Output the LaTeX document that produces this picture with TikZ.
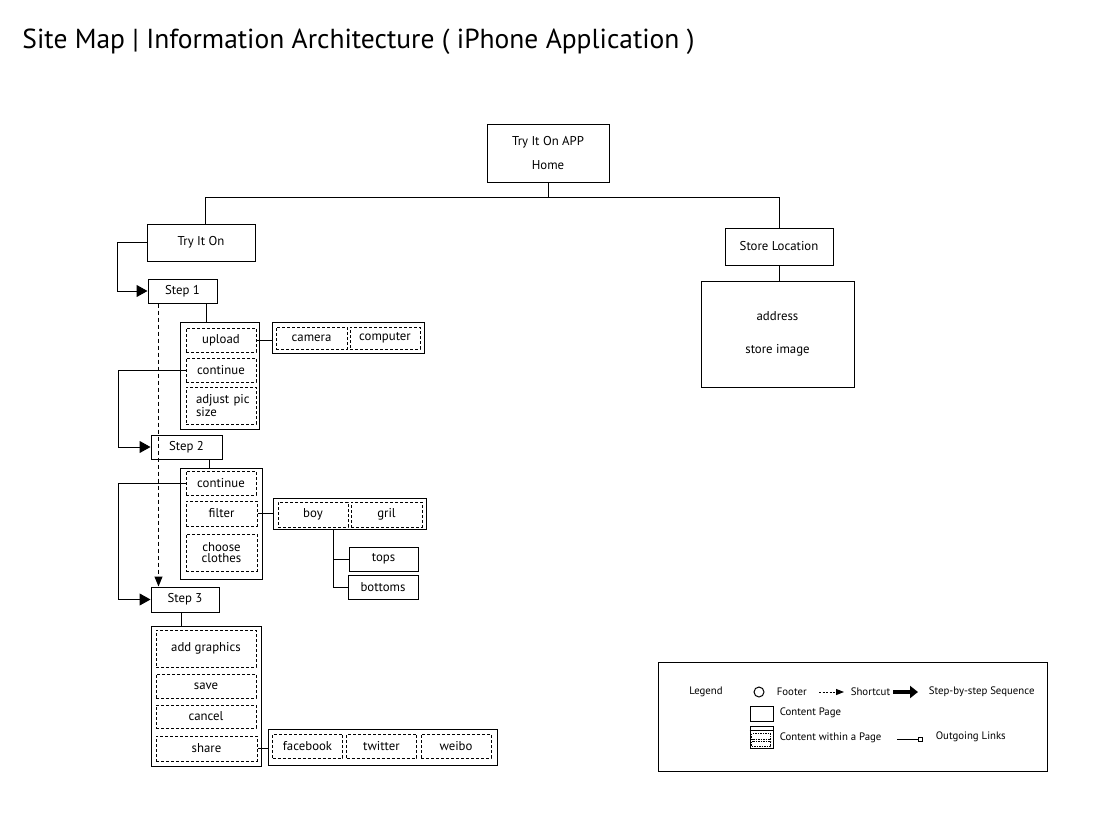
\documentclass[tikz,border=0pt]{standalone}
\usepackage{fontspec}
\setmainfont{PT Sans}
\usepackage{tikz}
\usetikzlibrary{arrows.meta, positioning, calc}

\begin{document}
\begin{tikzpicture}[x=1pt, y=-1pt, line width=1pt,
  page/.style={draw, rectangle, inner sep=0pt, font=\fontsize{12.8}{14}\selectfont},
  item/.style={draw, rectangle, inner sep=0pt, dash pattern=on 3pt off 2pt, font=\fontsize{12.8}{12}\selectfont},
  group/.style={draw, rectangle, inner sep=0pt},
  stepline/.style={-{Triangle[length=11pt, width=12pt]}},
  shortline/.style={dash pattern=on 4pt off 3pt, -{Triangle[length=10pt, width=8pt]}},
  legendtxt/.style={font=\fontsize{10.8}{11}\selectfont, anchor=west}]
  \path[fill=white] (0,0) rectangle (1093,830);
  \useasboundingbox (0,0) rectangle (1093,830);

  % Title
  \node[anchor=base west, inner sep=0pt, font=\fontsize{27.5}{28}\selectfont] (title) at (22,48) {Site Map | Information Architecture ( iPhone Application )};

  % Home and first level
  \node[page, minimum width=122, minimum height=58, align=center, font=\fontsize{12.8}{24}\selectfont] (home) at (548,153) {Try It On APP\\Home};
  \node[page, minimum width=108, minimum height=37] (tryon) at (201,242.5) {Try It On};
  \node[page, minimum width=108, minimum height=37] (store) at (779,246.5) {Store Location};
  \node[page, minimum width=153, minimum height=106, align=center, font=\fontsize{12.8}{33}\selectfont] (storeinfo) at (777.5,334) {address\\store image};

  \coordinate (busL) at (205,197);
  \coordinate (busR) at (779,197);
  \draw (home.south) -- (home.south |- busL);
  \draw (busL |- tryon.north) -- (busL) -- (busR) -- (busR |- store.north);
  \draw (store.south) -- (store.south |- storeinfo.north);

  % Step 1
  \node[page, minimum width=69, minimum height=24] (step1) at (182.5,291) {Step 1};
  \node[group, minimum width=79, minimum height=107] (grpA) at (219.5,375.5) {};
  \node[item, minimum width=70, minimum height=24] (upload) at (221,340) {upload};
  \node[item, minimum width=70, minimum height=24] (contA) at (221,370) {continue};
  \node[item, minimum width=70, minimum height=37, align=left, text width=50, font=\fontsize{12.8}{13}\selectfont] (adjust) at (221,405.5) {adjust~pic\\size};
  \node[group, minimum width=152, minimum height=31] (camgrp) at (348,337.5) {};
  \node[item, minimum width=71, minimum height=22] (camera) at (311.5,338) {camera};
  \node[item, minimum width=70, minimum height=22] (computer) at (385,338) {computer};

  \draw[stepline] (tryon.west) -- ++(-29,0) |- (step1.west);
  \draw ([xshift=23.5pt]step1.south) -- ([xshift=23.5pt]step1.south |- grpA.north);
  \draw (upload.east) -- (upload.east -| camgrp.west);

  % Step 2
  \node[page, minimum width=71, minimum height=24] (step2) at (186.5,447) {Step 2};
  \node[group, minimum width=82, minimum height=111] (grpB) at (221,523.5) {};
  \node[item, minimum width=70, minimum height=24] (contB) at (221,483) {continue};
  \node[item, minimum width=71, minimum height=25] (filter) at (221.5,513.5) {filter};
  \node[item, minimum width=71, minimum height=37, align=center, font=\fontsize{12.8}{11.5}\selectfont] (choose) at (221.5,552.5) {choose\\clothes};
  \node[group, minimum width=153, minimum height=31] (gender) at (349.5,513.5) {};
  \node[item, minimum width=70, minimum height=25] (boy) at (313,514.5) {boy};
  \node[item, minimum width=71, minimum height=25] (gril) at (386.5,514.5) {gril};
  \node[page, minimum width=69, minimum height=24] (tops) at (383.5,559) {tops};
  \node[page, minimum width=70, minimum height=24] (bottoms) at (383,587) {bottoms};

  \draw[stepline] (contA.west) -- ++(-67,0) |- (step2.west);
  \draw ([xshift=22.5pt]step2.south) -- ([xshift=22.5pt]step2.south |- grpB.north);
  \draw (filter.east) -- (filter.east -| gender.west);
  \draw ([xshift=-16.5pt]gender.south) |- (bottoms.west);
  \draw ([xshift=-16.5pt]gender.south |- tops.west) -- (tops.west);

  % Step 3
  \node[page, minimum width=68, minimum height=25] (step3) at (185,599.5) {Step 3};
  \node[group, minimum width=110, minimum height=140] (grpC) at (206,696) {};
  \node[item, minimum width=100, minimum height=37] (addgfx) at (206,648.5) {add graphics};
  \node[item, minimum width=100, minimum height=24] (save) at (206,686) {save};
  \node[item, minimum width=100, minimum height=23] (cancel) at (206,716.5) {cancel};
  \node[item, minimum width=101, minimum height=25] (share) at (206.5,748.5) {share};
  \node[group, minimum width=229, minimum height=36] (social) at (382.5,747) {};
  \foreach \name/\x/\txt in {facebook/307.5/facebook, twitter/381.5/twitter, weibo/456/weibo}
    \node[item, minimum width=70, minimum height=24] (\name) at (\x,746) {\txt};

  \draw[stepline] (contB.west) -- ++(-67,0) |- (step3.west);
  \draw ([xshift=-4pt]step3.south) -- ([xshift=-4pt]step3.south |- grpC.north);
  \draw (share.east) -- (share.east -| social.west);

  % Shortcut from step 1 to step 3
  \draw[shortline] ([xshift=-24pt]step1.south) -- ([xshift=-24pt]step1.south |- step3.north);

  % Legend
  \node[group, minimum width=389, minimum height=109] (legend) at (852.5,716.5) {};
  \node[legendtxt, anchor=center] (legendlbl) at (706,692) {Legend};
  \node[draw, circle, minimum size=10, inner sep=0pt] (footicon) at (759,692) {};
  \node[legendtxt] (footlbl) at (773,692) {Footer};
  \coordinate (cutA) at (819,692);
  \coordinate (cutB) at (844,692);
  \draw[dash pattern=on 2pt off 1.5pt, -{Triangle[length=8pt, width=6pt]}] (cutA) -- (cutB);
  \node[legendtxt] (cutlbl) at (847,692) {Shortcut};
  \coordinate (seqA) at (893,692);
  \coordinate (seqB) at (918,692);
  \draw[line width=4pt, -{Triangle[length=8pt, width=12pt]}] (seqA) -- (seqB);
  \node[legendtxt] (seqlbl) at (925,692) {Step-by-step Sequence};
  \node[group, minimum width=23, minimum height=15] (pageicon) at (761.5,713.5) {};
  \node[legendtxt] (pagelbl) at (776,713) {Content Page};
  \node[group, minimum width=23, minimum height=22] (withinicon) at (761.5,737) {};
  \draw (withinicon.north west) ++(0,5) -- ++(23,0);
  \draw[line width=0.5pt, dash pattern=on 1.5pt off 1pt] ($(withinicon.north west)+(2,8)$) rectangle ++(19,6);
  \draw[line width=0.5pt, dash pattern=on 1.5pt off 1pt] ($(withinicon.north west)+(2,16)$) rectangle ++(19,5);
  \node[legendtxt] (withinlbl) at (776,738) {Content within a Page};
  \coordinate (outA) at (897,739);
  \node[draw, rectangle, minimum size=4, inner sep=0pt, line width=0.6pt] (outsq) at (920,739) {};
  \draw (outA) -- (outsq.west);
  \node[legendtxt] (outlbl) at (932,737) {Outgoing Links};
\end{tikzpicture}
\end{document}
